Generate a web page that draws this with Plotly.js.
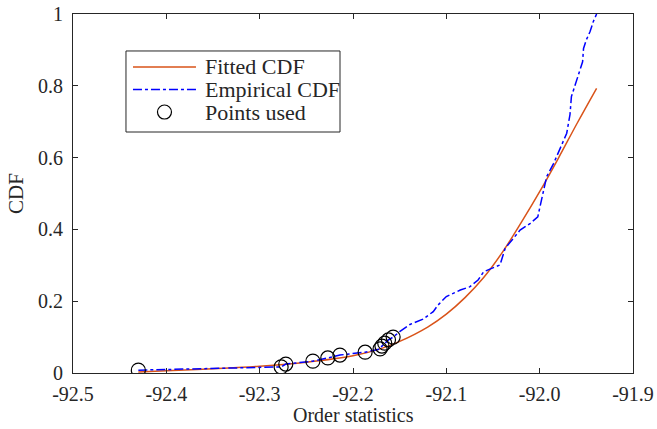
<!DOCTYPE html>
<html>
<head>
<meta charset="utf-8">
<script src="https://cdn.plot.ly/plotly-3.0.1.min.js"></script>
<style>html,body{margin:0;padding:0;background:#fff;}#chart{width:657px;height:429px;}</style>
</head>
<body>
<div id="chart"></div>
<script>
// Fitted CDF (smooth curve)
var fittedX = [-92.43, -92.40, -92.35, -92.30, -92.25, -92.20, -92.17, -92.15, -92.12, -92.10, -92.08, -92.06, -92.04, -92.02, -92.00, -91.98, -91.96, -91.939];
var fittedY = [0.003, 0.006, 0.012, 0.019, 0.030, 0.048, 0.068, 0.088, 0.128, 0.164, 0.210, 0.266, 0.336, 0.418, 0.505, 0.598, 0.695, 0.793];

// Empirical CDF
var empX = [-92.43, -92.277, -92.272, -92.243, -92.227, -92.214, -92.187, -92.171, -92.169, -92.166, -92.162, -92.157, -92.150, -92.139, -92.125, -92.114, -92.109, -92.100, -92.085, -92.075, -92.066, -92.060, -92.0425, -92.037, -92.030, -92.021, -92.010, -92.002, -92.000, -91.996, -91.9925, -91.985, -91.978, -91.971, -91.9675, -91.966, -91.962, -91.957, -91.954, -91.953, -91.950, -91.946, -91.9425, -91.939];
var empY = [0.008, 0.017, 0.025, 0.033, 0.042, 0.050, 0.058, 0.067, 0.075, 0.083, 0.092, 0.100, 0.115, 0.135, 0.150, 0.171, 0.189, 0.213, 0.231, 0.240, 0.259, 0.282, 0.301, 0.347, 0.370, 0.398, 0.417, 0.435, 0.459, 0.510, 0.547, 0.584, 0.626, 0.668, 0.720, 0.770, 0.802, 0.839, 0.867, 0.904, 0.928, 0.951, 0.979, 1.000];

// Points used in the fit
var usedX = [-92.430, -92.277, -92.272, -92.243, -92.227, -92.214, -92.187, -92.171, -92.169, -92.166, -92.162, -92.157];
var usedY = [0.008, 0.017, 0.025, 0.033, 0.042, 0.050, 0.058, 0.067, 0.075, 0.083, 0.092, 0.100];

var xTicks = [-92.5, -92.4, -92.3, -92.2, -92.1, -92.0, -91.9];
var xTickText = ['-92.5', '-92.4', '-92.3', '-92.2', '-92.1', '-92.0', '-91.9'];
var yTicks = [0, 0.2, 0.4, 0.6, 0.8, 1];
var yTickText = ['0', '0.2', '0.4', '0.6', '0.8', '1'];

var legendNames = ['Fitted CDF', 'Empirical CDF', 'Points used'];
var xTitle = 'Order statistics';
var yTitle = 'CDF';

function F(size) {
  return {family: 'Liberation Serif', size: size || 20, color: '#262626'};
}

var traces = [
  {x: fittedX, y: fittedY, type: 'scatter', mode: 'lines', name: legendNames[0],
   line: {color: '#D95319', width: 1.5, shape: 'spline', smoothing: 1}},
  {x: empX, y: empY, type: 'scatter', mode: 'lines', name: legendNames[1],
   line: {color: '#0000FF', width: 1.5, dash: 'dashdot'}},
  {x: usedX, y: usedY, type: 'scatter', mode: 'markers', name: legendNames[2],
   marker: {symbol: 'circle-open', size: 14, color: '#000000', line: {width: 1.2, color: '#000000'}}}
];

function axisCommon() {
  return {
    showgrid: false, zeroline: false, showline: true, linecolor: '#262626', linewidth: 1,
    mirror: 'ticks', ticks: 'inside', ticklen: 5, tickcolor: '#262626', tickwidth: 1,
    tickfont: F(20)
  };
}

// Manual legend box (paper coordinates of plot area)
var lgX0 = 0.0946, lgX1 = 0.4768, lgY0 = 0.6713, lgY1 = 0.897;
var rowY = [0.8524, 0.7897, 0.7270];
var sampleX0 = 0.1071, sampleX1 = 0.2196, textX = 0.2321;
var cx = (sampleX0 + sampleX1) / 2, rx = 7 / 560, ry = 7 / 359;

var shapes = [
  {type: 'rect', xref: 'paper', yref: 'paper', x0: lgX0, x1: lgX1, y0: lgY0, y1: lgY1,
   line: {color: '#262626', width: 1}, fillcolor: '#ffffff', layer: 'above'},
  {type: 'line', xref: 'paper', yref: 'paper', x0: sampleX0, x1: sampleX1, y0: rowY[0], y1: rowY[0],
   line: {color: '#D95319', width: 1.5}, layer: 'above'},
  {type: 'line', xref: 'paper', yref: 'paper', x0: sampleX0, x1: sampleX1, y0: rowY[1], y1: rowY[1],
   line: {color: '#0000FF', width: 1.5, dash: 'dashdot'}, layer: 'above'},
  {type: 'circle', xref: 'paper', yref: 'paper', x0: cx - rx, x1: cx + rx, y0: rowY[2] - ry, y1: rowY[2] + ry,
   line: {color: '#000000', width: 1.2}, layer: 'above'}
];

var annotations = legendNames.map(function (t, i) {
  return {text: t, xref: 'paper', yref: 'paper', x: textX, y: rowY[i], xanchor: 'left', yanchor: 'middle',
          showarrow: false, font: F(22)};
});
// x-axis title anchored to the bottom edge, under the tick labels
annotations.push({text: xTitle, xref: 'paper', yref: 'paper', x: 0.5, y: -0.1505, xanchor: 'center', yanchor: 'bottom',
                  showarrow: false, borderpad: 0, font: F(20)});

var layout = {
  width: 657, height: 429,
  margin: {l: 73, r: 24, t: 14, b: 56},
  paper_bgcolor: '#ffffff', plot_bgcolor: '#ffffff',
  font: F(20),
  showlegend: false,
  shapes: shapes,
  annotations: annotations,
  xaxis: Object.assign(axisCommon(), {
    range: [-92.5, -91.9], tickvals: xTicks, ticktext: xTickText, ticklabelstandoff: 3
  }),
  yaxis: Object.assign(axisCommon(), {
    range: [0, 1], tickvals: yTicks, ticktext: yTickText, ticklabelstandoff: 5,
    title: {text: yTitle, font: F(21), standoff: 8}
  })
};

Plotly.newPlot('chart', traces, layout, {staticPlot: true, displayModeBar: false});
</script>
</body>
</html>
